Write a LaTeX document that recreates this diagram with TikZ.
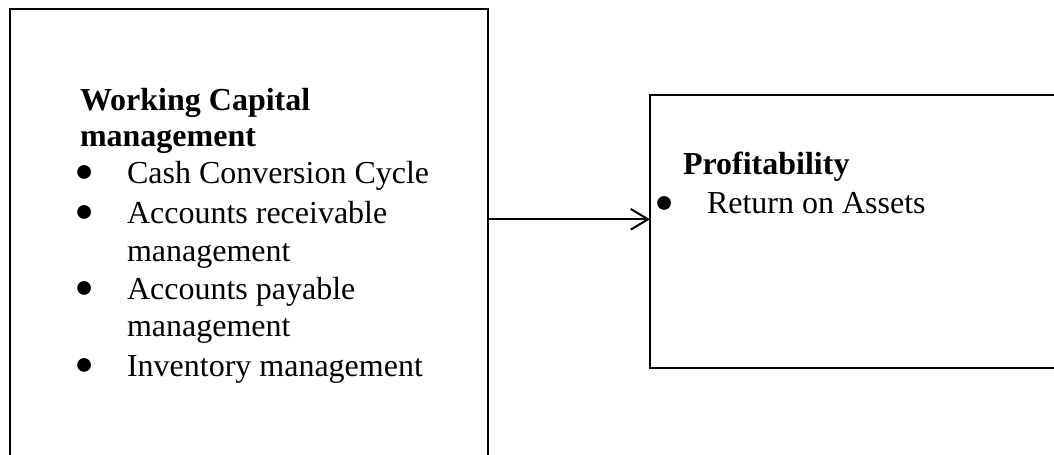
\documentclass[tikz,border=0pt]{standalone}
\usepackage{fontspec}
\setmainfont{Liberation Serif}
\usetikzlibrary{arrows.meta}
\tikzset{
  boxstyle/.style={draw, line width=1.5pt, rectangle, inner sep=0pt, outer sep=0pt},
  txt/.style={anchor=base west, inner sep=0pt, outer sep=0pt, font=\fontsize{24}{28}\selectfont},
  btxt/.style={txt, font=\fontsize{24}{28}\selectfont\bfseries},
  bul/.style={anchor=center, inner sep=0pt, outer sep=0pt, yshift=-4.1pt, font=\fontsize{24}{28}\selectfont},
  conn/.style={line width=1.5pt, -{Straight Barb[length=13pt,width=15.5pt,line width=1.5pt]}}
}
\newcommand{\bigbul}{\scalebox{1.8}{\textbullet}}
\begin{document}
\begin{tikzpicture}[x=0.75pt,y=-0.75pt]
\useasboundingbox (0,0) rectangle (1054,454);
\clip (0,0) rectangle (1054,454);
% boxes
\node[boxstyle, minimum width=358.5pt, minimum height=353.25pt] (wc) at (249,244.5) {};
\node[boxstyle, minimum width=315pt, minimum height=204.75pt] (prof) at (860,231.5) {};
% left box text
\node[btxt] (l1) at (80,110.7) {Working Capital};
\node[btxt] (l2) at (80,146) {management};
\node[bul] (b1) at (85,173.5) {\bigbul};
\node[txt] (l3) at (127,183.3) {Cash Conversion Cycle};
\node[bul] (b2) at (85,213.2) {\bigbul};
\node[txt] (l4) at (127,223) {Accounts receivable};
\node[txt] (l5) at (127,261) {management};
\node[bul] (b3) at (85,289.5) {\bigbul};
\node[txt] (l6) at (127,299.3) {Accounts payable};
\node[txt] (l7) at (127,336.5) {management};
\node[bul] (b4) at (85,366.2) {\bigbul};
\node[txt] (l8) at (127,376) {Inventory management};
% right box text
\node[btxt] (r1) at (683,174.5) {Profitability};
\node[bul] (b5) at (665,204.5) {\bigbul};
\node[txt] (r2) at (707,213) {Return on Assets};
% connector
\draw[conn] (wc.east |- 0,219.3) -- (prof.west |- 0,219.3);
\end{tikzpicture}
\end{document}
